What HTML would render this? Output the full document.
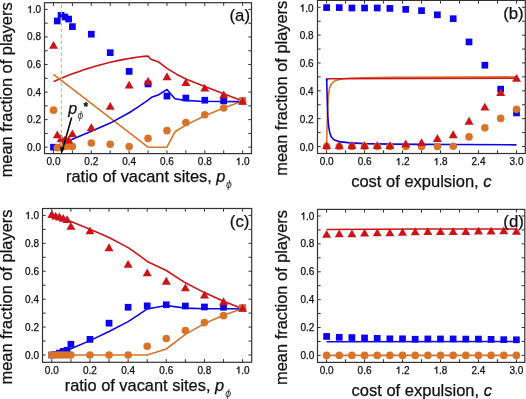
<!DOCTYPE html>
<html><head><meta charset="utf-8"><style>
html,body{margin:0;padding:0;background:#fff;}
svg{display:block;will-change:transform;}
text{font-family:"Liberation Sans",sans-serif;fill:#111;stroke:#111;stroke-width:0.25px;}
.tk{font-size:10px;}
.ax{font-size:16.4px;}
.ax2{font-size:16.5px;}
.lab{font-size:16.8px;}
.sub{font-size:10.5px;stroke:none;fill:#333;}
.it{font-style:italic;}
</style></head><body>
<svg width="526" height="399" viewBox="0 0 526 399">
<rect width="526" height="399" fill="#fff"/>
<!-- panel a -->
<line x1="53.5" y1="153.6" x2="53.5" y2="150.4" stroke="#333" stroke-width="1"/>
<line x1="53.5" y1="2.7" x2="53.5" y2="5.9" stroke="#333" stroke-width="1"/>
<line x1="72.41" y1="153.6" x2="72.41" y2="150.4" stroke="#333" stroke-width="1"/>
<line x1="72.41" y1="2.7" x2="72.41" y2="5.9" stroke="#333" stroke-width="1"/>
<line x1="91.32" y1="153.6" x2="91.32" y2="150.4" stroke="#333" stroke-width="1"/>
<line x1="91.32" y1="2.7" x2="91.32" y2="5.9" stroke="#333" stroke-width="1"/>
<line x1="110.23" y1="153.6" x2="110.23" y2="150.4" stroke="#333" stroke-width="1"/>
<line x1="110.23" y1="2.7" x2="110.23" y2="5.9" stroke="#333" stroke-width="1"/>
<line x1="129.14" y1="153.6" x2="129.14" y2="150.4" stroke="#333" stroke-width="1"/>
<line x1="129.14" y1="2.7" x2="129.14" y2="5.9" stroke="#333" stroke-width="1"/>
<line x1="148.05" y1="153.6" x2="148.05" y2="150.4" stroke="#333" stroke-width="1"/>
<line x1="148.05" y1="2.7" x2="148.05" y2="5.9" stroke="#333" stroke-width="1"/>
<line x1="166.96" y1="153.6" x2="166.96" y2="150.4" stroke="#333" stroke-width="1"/>
<line x1="166.96" y1="2.7" x2="166.96" y2="5.9" stroke="#333" stroke-width="1"/>
<line x1="185.87" y1="153.6" x2="185.87" y2="150.4" stroke="#333" stroke-width="1"/>
<line x1="185.87" y1="2.7" x2="185.87" y2="5.9" stroke="#333" stroke-width="1"/>
<line x1="204.78" y1="153.6" x2="204.78" y2="150.4" stroke="#333" stroke-width="1"/>
<line x1="204.78" y1="2.7" x2="204.78" y2="5.9" stroke="#333" stroke-width="1"/>
<line x1="223.69" y1="153.6" x2="223.69" y2="150.4" stroke="#333" stroke-width="1"/>
<line x1="223.69" y1="2.7" x2="223.69" y2="5.9" stroke="#333" stroke-width="1"/>
<line x1="242.6" y1="153.6" x2="242.6" y2="150.4" stroke="#333" stroke-width="1"/>
<line x1="242.6" y1="2.7" x2="242.6" y2="5.9" stroke="#333" stroke-width="1"/>
<line x1="44.5" y1="147.2" x2="47.7" y2="147.2" stroke="#333" stroke-width="1"/>
<line x1="251.5" y1="147.2" x2="248.3" y2="147.2" stroke="#333" stroke-width="1"/>
<line x1="44.5" y1="133.42" x2="47.7" y2="133.42" stroke="#333" stroke-width="1"/>
<line x1="251.5" y1="133.42" x2="248.3" y2="133.42" stroke="#333" stroke-width="1"/>
<line x1="44.5" y1="119.64" x2="47.7" y2="119.64" stroke="#333" stroke-width="1"/>
<line x1="251.5" y1="119.64" x2="248.3" y2="119.64" stroke="#333" stroke-width="1"/>
<line x1="44.5" y1="105.86" x2="47.7" y2="105.86" stroke="#333" stroke-width="1"/>
<line x1="251.5" y1="105.86" x2="248.3" y2="105.86" stroke="#333" stroke-width="1"/>
<line x1="44.5" y1="92.08" x2="47.7" y2="92.08" stroke="#333" stroke-width="1"/>
<line x1="251.5" y1="92.08" x2="248.3" y2="92.08" stroke="#333" stroke-width="1"/>
<line x1="44.5" y1="78.3" x2="47.7" y2="78.3" stroke="#333" stroke-width="1"/>
<line x1="251.5" y1="78.3" x2="248.3" y2="78.3" stroke="#333" stroke-width="1"/>
<line x1="44.5" y1="64.52" x2="47.7" y2="64.52" stroke="#333" stroke-width="1"/>
<line x1="251.5" y1="64.52" x2="248.3" y2="64.52" stroke="#333" stroke-width="1"/>
<line x1="44.5" y1="50.74" x2="47.7" y2="50.74" stroke="#333" stroke-width="1"/>
<line x1="251.5" y1="50.74" x2="248.3" y2="50.74" stroke="#333" stroke-width="1"/>
<line x1="44.5" y1="36.96" x2="47.7" y2="36.96" stroke="#333" stroke-width="1"/>
<line x1="251.5" y1="36.96" x2="248.3" y2="36.96" stroke="#333" stroke-width="1"/>
<line x1="44.5" y1="23.18" x2="47.7" y2="23.18" stroke="#333" stroke-width="1"/>
<line x1="251.5" y1="23.18" x2="248.3" y2="23.18" stroke="#333" stroke-width="1"/>
<line x1="44.5" y1="9.4" x2="47.7" y2="9.4" stroke="#333" stroke-width="1"/>
<line x1="251.5" y1="9.4" x2="248.3" y2="9.4" stroke="#333" stroke-width="1"/>
<rect id="a_frame" x="44.5" y="2.7" width="207" height="150.9" fill="none" stroke="#333" stroke-width="1.2"/>
<g id="a_x0">
<text x="46.55" y="164.8" class="tk">0.0</text>
</g>
<g id="a_x1">
<text x="84.37" y="164.8" class="tk">0.2</text>
</g>
<g id="a_x2">
<text x="122.19" y="164.8" class="tk">0.4</text>
</g>
<g id="a_x3">
<text x="160.01" y="164.8" class="tk">0.6</text>
</g>
<g id="a_x4">
<text x="197.83" y="164.8" class="tk">0.8</text>
</g>
<g id="a_x5">
<path d="M0.3726,0H0.2747V-0.56C0.23,-0.51 0.16,-0.475 0.109,-0.454V-0.539C0.19,-0.575 0.27,-0.64 0.31,-0.716H0.3726Z" transform="translate(235.65,164.8) scale(10.0)" fill="#111" stroke="#111" stroke-width="0.025"/>
<text x="241.21" y="164.8" class="tk">.0</text>
</g>
<g id="a_y0">
<text x="27.1" y="150.7" class="tk">0.0</text>
</g>
<g id="a_y1">
<text x="27.1" y="123.14" class="tk">0.2</text>
</g>
<g id="a_y2">
<text x="27.1" y="95.58" class="tk">0.4</text>
</g>
<g id="a_y3">
<text x="27.1" y="68.02" class="tk">0.6</text>
</g>
<g id="a_y4">
<text x="27.1" y="40.46" class="tk">0.8</text>
</g>
<g id="a_y5">
<path d="M0.3726,0H0.2747V-0.56C0.23,-0.51 0.16,-0.475 0.109,-0.454V-0.539C0.19,-0.575 0.27,-0.64 0.31,-0.716H0.3726Z" transform="translate(27.1,12.9) scale(10.0)" fill="#111" stroke="#111" stroke-width="0.025"/>
<text x="32.66" y="12.9" class="tk">.0</text>
</g>
<polyline points="53.5,81.61 57.28,79.95 61.06,78.35 64.85,76.81 68.63,75.31 72.41,73.87 76.19,72.48 79.97,71.14 83.76,69.85 87.54,68.62 91.32,67.44 95.1,66.31 98.88,65.23 102.67,64.2 106.45,63.23 110.23,62.31 114.01,61.44 117.79,60.63 121.58,59.86 125.36,59.15 129.14,58.49 132.92,57.88 136.7,57.33 140.49,56.83 144.27,56.37 148.05,55.98 150.89,59.28 158.45,61.9 166.96,68.38 176.42,74.17 185.87,78.99 204.78,86.57 223.69,93.73 242.6,100.9" fill="none" stroke="#cc1418" stroke-width="1.6" stroke-linejoin="round"/>
<polyline points="53.5,74.44 148.05,147.2 166.96,147.2 174.9,131.77 185.87,125.15 204.78,115.78 223.69,108.06 242.6,100.9" fill="none" stroke="#d8742a" stroke-width="1.6" stroke-linejoin="round"/>
<polyline points="53.5,147.2 72.41,139.21 91.32,131.35 110.23,123.08 129.14,112.75 138.59,106.55 148.05,100.07 152.21,96.9 158.83,94.7 166.96,89.46 174.9,98.83 185.11,100.35 200.05,101.31 242.6,101.59" fill="none" stroke="#0c00ee" stroke-width="1.6" stroke-linejoin="round"/>
<rect x="50.15" y="143.85" width="6.7" height="6.7" fill="#0c00ee"/>
<rect x="53.93" y="17.63" width="6.7" height="6.7" fill="#0c00ee"/>
<rect x="57.71" y="11.98" width="6.7" height="6.7" fill="#0c00ee"/>
<rect x="61.5" y="13.63" width="6.7" height="6.7" fill="#0c00ee"/>
<rect x="65.28" y="15.7" width="6.7" height="6.7" fill="#0c00ee"/>
<rect x="69.06" y="23.27" width="6.7" height="6.7" fill="#0c00ee"/>
<rect x="87.97" y="30.85" width="6.7" height="6.7" fill="#0c00ee"/>
<rect x="106.88" y="49.32" width="6.7" height="6.7" fill="#0c00ee"/>
<rect x="125.79" y="68.06" width="6.7" height="6.7" fill="#0c00ee"/>
<rect x="144.7" y="80.6" width="6.7" height="6.7" fill="#0c00ee"/>
<rect x="163.61" y="92.73" width="6.7" height="6.7" fill="#0c00ee"/>
<rect x="182.52" y="94.66" width="6.7" height="6.7" fill="#0c00ee"/>
<rect x="201.43" y="96.86" width="6.7" height="6.7" fill="#0c00ee"/>
<rect x="220.34" y="97.55" width="6.7" height="6.7" fill="#0c00ee"/>
<rect x="239.25" y="97.55" width="6.7" height="6.7" fill="#0c00ee"/>
<circle cx="53.5" cy="110.13" r="3.8" fill="#d8742a"/>
<circle cx="57.28" cy="147.75" r="3.8" fill="#d8742a"/>
<circle cx="61.06" cy="147.2" r="3.8" fill="#d8742a"/>
<circle cx="64.85" cy="146.37" r="3.8" fill="#d8742a"/>
<circle cx="68.63" cy="145.96" r="3.8" fill="#d8742a"/>
<circle cx="72.41" cy="146.51" r="3.8" fill="#d8742a"/>
<circle cx="91.32" cy="142.93" r="3.8" fill="#d8742a"/>
<circle cx="110.23" cy="144.31" r="3.8" fill="#d8742a"/>
<circle cx="129.14" cy="146.51" r="3.8" fill="#d8742a"/>
<circle cx="148.05" cy="138.38" r="3.8" fill="#d8742a"/>
<circle cx="166.96" cy="130.66" r="3.8" fill="#d8742a"/>
<circle cx="185.87" cy="122.53" r="3.8" fill="#d8742a"/>
<circle cx="204.78" cy="114.82" r="3.8" fill="#d8742a"/>
<circle cx="223.69" cy="107.93" r="3.8" fill="#d8742a"/>
<circle cx="242.6" cy="100.9" r="3.8" fill="#d8742a"/>
<path d="M53.5,40.91L58,48.71L49,48.71Z" fill="#cc1418"/>
<path d="M57.28,130.48L61.78,138.28L52.78,138.28Z" fill="#cc1418"/>
<path d="M61.06,134.34L65.56,142.14L56.56,142.14Z" fill="#cc1418"/>
<path d="M64.85,135.72L69.35,143.52L60.35,143.52Z" fill="#cc1418"/>
<path d="M68.63,135.72L73.13,143.52L64.13,143.52Z" fill="#cc1418"/>
<path d="M72.41,129.52L76.91,137.32L67.91,137.32Z" fill="#cc1418"/>
<path d="M91.32,123.18L95.82,130.98L86.82,130.98Z" fill="#cc1418"/>
<path d="M110.23,101.96L114.73,109.76L105.73,109.76Z" fill="#cc1418"/>
<path d="M129.14,80.74L133.64,88.54L124.64,88.54Z" fill="#cc1418"/>
<path d="M148.05,76.88L152.55,84.68L143.55,84.68Z" fill="#cc1418"/>
<path d="M166.96,72.33L171.46,80.13L162.46,80.13Z" fill="#cc1418"/>
<path d="M185.87,78.26L190.37,86.06L181.37,86.06Z" fill="#cc1418"/>
<path d="M204.78,83.77L209.28,91.57L200.28,91.57Z" fill="#cc1418"/>
<path d="M223.69,90.52L228.19,98.32L219.19,98.32Z" fill="#cc1418"/>
<path d="M242.6,97L247.1,104.8L238.1,104.8Z" fill="#cc1418"/>
<line x1="61.4" y1="5" x2="61.4" y2="153" stroke="#88e44c" stroke-width="1.25" stroke-dasharray="3.2 2.75"/>
<line x1="71.6" y1="117.5" x2="62.6" y2="149.5" stroke="#000" stroke-width="1.5"/>
<path d="M61.2,154.6 L60.1,146.8 L64.4,148 Z" fill="#000"/>
<text id="ann_p" x="68.2" y="114" class="it" style="font-size:16px">p</text>
<text id="ann_phi" x="77.4" y="118.8" class="it" style="font-size:10.5px;fill:#444;stroke:none">&#981;</text>
<text id="ann_star" x="83.6" y="111" style="font-size:12px;font-weight:bold">*</text>
<text id="a_lab" x="229.5" y="21" class="lab">(a)</text>
<!-- panel b -->
<line x1="326.6" y1="153.5" x2="326.6" y2="150.3" stroke="#333" stroke-width="1"/>
<line x1="326.6" y1="0.4" x2="326.6" y2="3.6" stroke="#333" stroke-width="1"/>
<line x1="345.59" y1="153.5" x2="345.59" y2="150.3" stroke="#333" stroke-width="1"/>
<line x1="345.59" y1="0.4" x2="345.59" y2="3.6" stroke="#333" stroke-width="1"/>
<line x1="364.58" y1="153.5" x2="364.58" y2="150.3" stroke="#333" stroke-width="1"/>
<line x1="364.58" y1="0.4" x2="364.58" y2="3.6" stroke="#333" stroke-width="1"/>
<line x1="383.57" y1="153.5" x2="383.57" y2="150.3" stroke="#333" stroke-width="1"/>
<line x1="383.57" y1="0.4" x2="383.57" y2="3.6" stroke="#333" stroke-width="1"/>
<line x1="402.56" y1="153.5" x2="402.56" y2="150.3" stroke="#333" stroke-width="1"/>
<line x1="402.56" y1="0.4" x2="402.56" y2="3.6" stroke="#333" stroke-width="1"/>
<line x1="421.55" y1="153.5" x2="421.55" y2="150.3" stroke="#333" stroke-width="1"/>
<line x1="421.55" y1="0.4" x2="421.55" y2="3.6" stroke="#333" stroke-width="1"/>
<line x1="440.54" y1="153.5" x2="440.54" y2="150.3" stroke="#333" stroke-width="1"/>
<line x1="440.54" y1="0.4" x2="440.54" y2="3.6" stroke="#333" stroke-width="1"/>
<line x1="459.53" y1="153.5" x2="459.53" y2="150.3" stroke="#333" stroke-width="1"/>
<line x1="459.53" y1="0.4" x2="459.53" y2="3.6" stroke="#333" stroke-width="1"/>
<line x1="478.52" y1="153.5" x2="478.52" y2="150.3" stroke="#333" stroke-width="1"/>
<line x1="478.52" y1="0.4" x2="478.52" y2="3.6" stroke="#333" stroke-width="1"/>
<line x1="497.51" y1="153.5" x2="497.51" y2="150.3" stroke="#333" stroke-width="1"/>
<line x1="497.51" y1="0.4" x2="497.51" y2="3.6" stroke="#333" stroke-width="1"/>
<line x1="516.5" y1="153.5" x2="516.5" y2="150.3" stroke="#333" stroke-width="1"/>
<line x1="516.5" y1="0.4" x2="516.5" y2="3.6" stroke="#333" stroke-width="1"/>
<line x1="317.5" y1="146.5" x2="320.7" y2="146.5" stroke="#333" stroke-width="1"/>
<line x1="525.3" y1="146.5" x2="522.1" y2="146.5" stroke="#333" stroke-width="1"/>
<line x1="317.5" y1="132.58" x2="320.7" y2="132.58" stroke="#333" stroke-width="1"/>
<line x1="525.3" y1="132.58" x2="522.1" y2="132.58" stroke="#333" stroke-width="1"/>
<line x1="317.5" y1="118.66" x2="320.7" y2="118.66" stroke="#333" stroke-width="1"/>
<line x1="525.3" y1="118.66" x2="522.1" y2="118.66" stroke="#333" stroke-width="1"/>
<line x1="317.5" y1="104.74" x2="320.7" y2="104.74" stroke="#333" stroke-width="1"/>
<line x1="525.3" y1="104.74" x2="522.1" y2="104.74" stroke="#333" stroke-width="1"/>
<line x1="317.5" y1="90.82" x2="320.7" y2="90.82" stroke="#333" stroke-width="1"/>
<line x1="525.3" y1="90.82" x2="522.1" y2="90.82" stroke="#333" stroke-width="1"/>
<line x1="317.5" y1="76.9" x2="320.7" y2="76.9" stroke="#333" stroke-width="1"/>
<line x1="525.3" y1="76.9" x2="522.1" y2="76.9" stroke="#333" stroke-width="1"/>
<line x1="317.5" y1="62.98" x2="320.7" y2="62.98" stroke="#333" stroke-width="1"/>
<line x1="525.3" y1="62.98" x2="522.1" y2="62.98" stroke="#333" stroke-width="1"/>
<line x1="317.5" y1="49.06" x2="320.7" y2="49.06" stroke="#333" stroke-width="1"/>
<line x1="525.3" y1="49.06" x2="522.1" y2="49.06" stroke="#333" stroke-width="1"/>
<line x1="317.5" y1="35.14" x2="320.7" y2="35.14" stroke="#333" stroke-width="1"/>
<line x1="525.3" y1="35.14" x2="522.1" y2="35.14" stroke="#333" stroke-width="1"/>
<line x1="317.5" y1="21.22" x2="320.7" y2="21.22" stroke="#333" stroke-width="1"/>
<line x1="525.3" y1="21.22" x2="522.1" y2="21.22" stroke="#333" stroke-width="1"/>
<line x1="317.5" y1="7.3" x2="320.7" y2="7.3" stroke="#333" stroke-width="1"/>
<line x1="525.3" y1="7.3" x2="522.1" y2="7.3" stroke="#333" stroke-width="1"/>
<rect id="b_frame" x="317.5" y="0.4" width="207.8" height="153.1" fill="none" stroke="#333" stroke-width="1.2"/>
<g id="b_x0">
<text x="319.65" y="165.1" class="tk">0.0</text>
</g>
<g id="b_x1">
<text x="357.63" y="165.1" class="tk">0.6</text>
</g>
<g id="b_x2">
<path d="M0.3726,0H0.2747V-0.56C0.23,-0.51 0.16,-0.475 0.109,-0.454V-0.539C0.19,-0.575 0.27,-0.64 0.31,-0.716H0.3726Z" transform="translate(395.61,165.1) scale(10.0)" fill="#111" stroke="#111" stroke-width="0.025"/>
<text x="401.17" y="165.1" class="tk">.2</text>
</g>
<g id="b_x3">
<path d="M0.3726,0H0.2747V-0.56C0.23,-0.51 0.16,-0.475 0.109,-0.454V-0.539C0.19,-0.575 0.27,-0.64 0.31,-0.716H0.3726Z" transform="translate(433.59,165.1) scale(10.0)" fill="#111" stroke="#111" stroke-width="0.025"/>
<text x="439.15" y="165.1" class="tk">.8</text>
</g>
<g id="b_x4">
<text x="471.57" y="165.1" class="tk">2.4</text>
</g>
<g id="b_x5">
<text x="509.55" y="165.1" class="tk">3.0</text>
</g>
<g id="b_y0">
<text x="299.7" y="150.7" class="tk">0.0</text>
</g>
<g id="b_y1">
<text x="299.7" y="122.86" class="tk">0.2</text>
</g>
<g id="b_y2">
<text x="299.7" y="95.02" class="tk">0.4</text>
</g>
<g id="b_y3">
<text x="299.7" y="67.18" class="tk">0.6</text>
</g>
<g id="b_y4">
<text x="299.7" y="39.34" class="tk">0.8</text>
</g>
<g id="b_y5">
<path d="M0.3726,0H0.2747V-0.56C0.23,-0.51 0.16,-0.475 0.109,-0.454V-0.539C0.19,-0.575 0.27,-0.64 0.31,-0.716H0.3726Z" transform="translate(299.7,11.5) scale(10.0)" fill="#111" stroke="#111" stroke-width="0.025"/>
<text x="305.26" y="11.5" class="tk">.0</text>
</g>
<polyline points="326.6,146.5 326.92,132.58 327.61,110.31 328.18,99.17 329.01,90.82 329.77,87.34 330.97,84.56 332.93,82.19 335.02,80.8 340.02,79.27 348.12,78.29 364.58,77.74 389.9,77.32 516.5,76.9" fill="none" stroke="#d8742a" stroke-width="1.6" stroke-linejoin="round"/>
<polyline points="326.6,80.52 327.87,78.99 329.77,78.71 516.5,78.29" fill="none" stroke="#cc1418" stroke-width="1.6" stroke-linejoin="round"/>
<polyline points="326.6,78.29 326.92,88.04 327.42,106.13 327.87,117.27 328.63,126.32 329.77,132.86 331.03,136.48 332.93,138.84 335.02,140.24 339.26,141.63 350.02,142.88 364.58,143.58 389.9,144.13 421.55,144.41 453.2,144.55 516.5,144.83" fill="none" stroke="#0c00ee" stroke-width="1.6" stroke-linejoin="round"/>
<rect x="323.25" y="4.23" width="6.7" height="6.7" fill="#0c00ee"/>
<rect x="335.91" y="4.23" width="6.7" height="6.7" fill="#0c00ee"/>
<rect x="348.57" y="4.65" width="6.7" height="6.7" fill="#0c00ee"/>
<rect x="361.23" y="4.65" width="6.7" height="6.7" fill="#0c00ee"/>
<rect x="373.89" y="4.65" width="6.7" height="6.7" fill="#0c00ee"/>
<rect x="386.55" y="5.06" width="6.7" height="6.7" fill="#0c00ee"/>
<rect x="402.38" y="6.04" width="6.7" height="6.7" fill="#0c00ee"/>
<rect x="418.2" y="7.29" width="6.7" height="6.7" fill="#0c00ee"/>
<rect x="434.02" y="11.47" width="6.7" height="6.7" fill="#0c00ee"/>
<rect x="449.85" y="15.36" width="6.7" height="6.7" fill="#0c00ee"/>
<rect x="465.67" y="38.61" width="6.7" height="6.7" fill="#0c00ee"/>
<rect x="481.5" y="61.86" width="6.7" height="6.7" fill="#0c00ee"/>
<rect x="497.32" y="85.8" width="6.7" height="6.7" fill="#0c00ee"/>
<rect x="513.15" y="109.6" width="6.7" height="6.7" fill="#0c00ee"/>
<circle cx="326.6" cy="146.5" r="3.8" fill="#d8742a"/>
<circle cx="339.26" cy="146.5" r="3.8" fill="#d8742a"/>
<circle cx="351.92" cy="146.5" r="3.8" fill="#d8742a"/>
<circle cx="364.58" cy="146.5" r="3.8" fill="#d8742a"/>
<circle cx="377.24" cy="146.5" r="3.8" fill="#d8742a"/>
<circle cx="389.9" cy="146.5" r="3.8" fill="#d8742a"/>
<circle cx="405.73" cy="146.5" r="3.8" fill="#d8742a"/>
<circle cx="421.55" cy="146.5" r="3.8" fill="#d8742a"/>
<circle cx="437.38" cy="146.5" r="3.8" fill="#d8742a"/>
<circle cx="453.2" cy="146.22" r="3.8" fill="#d8742a"/>
<circle cx="469.02" cy="136.9" r="3.8" fill="#d8742a"/>
<circle cx="484.85" cy="127.85" r="3.8" fill="#d8742a"/>
<circle cx="500.67" cy="118.38" r="3.8" fill="#d8742a"/>
<circle cx="516.5" cy="109.33" r="3.8" fill="#d8742a"/>
<path d="M326.6,141.21L331.1,149.01L322.1,149.01Z" fill="#cc1418"/>
<path d="M339.26,141.21L343.76,149.01L334.76,149.01Z" fill="#cc1418"/>
<path d="M351.92,141.21L356.42,149.01L347.42,149.01Z" fill="#cc1418"/>
<path d="M364.58,141.21L369.08,149.01L360.08,149.01Z" fill="#cc1418"/>
<path d="M377.24,141.21L381.74,149.01L372.74,149.01Z" fill="#cc1418"/>
<path d="M389.9,141.21L394.4,149.01L385.4,149.01Z" fill="#cc1418"/>
<path d="M405.73,139.54L410.23,147.34L401.23,147.34Z" fill="#cc1418"/>
<path d="M421.55,138.28L426.05,146.08L417.05,146.08Z" fill="#cc1418"/>
<path d="M437.38,134.11L441.88,141.91L432.88,141.91Z" fill="#cc1418"/>
<path d="M453.2,130.35L457.7,138.15L448.7,138.15Z" fill="#cc1418"/>
<path d="M469.02,116.85L473.52,124.65L464.52,124.65Z" fill="#cc1418"/>
<path d="M484.85,102.65L489.35,110.45L480.35,110.45Z" fill="#cc1418"/>
<path d="M500.67,88.31L505.17,96.11L496.17,96.11Z" fill="#cc1418"/>
<path d="M516.5,73.97L521,81.77L512,81.77Z" fill="#cc1418"/>
<text id="b_lab" x="503.2" y="19" class="lab">(b)</text>
<!-- panel c -->
<line x1="51.8" y1="362.3" x2="51.8" y2="359.1" stroke="#333" stroke-width="1"/>
<line x1="51.8" y1="208.5" x2="51.8" y2="211.7" stroke="#333" stroke-width="1"/>
<line x1="70.88" y1="362.3" x2="70.88" y2="359.1" stroke="#333" stroke-width="1"/>
<line x1="70.88" y1="208.5" x2="70.88" y2="211.7" stroke="#333" stroke-width="1"/>
<line x1="89.96" y1="362.3" x2="89.96" y2="359.1" stroke="#333" stroke-width="1"/>
<line x1="89.96" y1="208.5" x2="89.96" y2="211.7" stroke="#333" stroke-width="1"/>
<line x1="109.04" y1="362.3" x2="109.04" y2="359.1" stroke="#333" stroke-width="1"/>
<line x1="109.04" y1="208.5" x2="109.04" y2="211.7" stroke="#333" stroke-width="1"/>
<line x1="128.12" y1="362.3" x2="128.12" y2="359.1" stroke="#333" stroke-width="1"/>
<line x1="128.12" y1="208.5" x2="128.12" y2="211.7" stroke="#333" stroke-width="1"/>
<line x1="147.2" y1="362.3" x2="147.2" y2="359.1" stroke="#333" stroke-width="1"/>
<line x1="147.2" y1="208.5" x2="147.2" y2="211.7" stroke="#333" stroke-width="1"/>
<line x1="166.28" y1="362.3" x2="166.28" y2="359.1" stroke="#333" stroke-width="1"/>
<line x1="166.28" y1="208.5" x2="166.28" y2="211.7" stroke="#333" stroke-width="1"/>
<line x1="185.36" y1="362.3" x2="185.36" y2="359.1" stroke="#333" stroke-width="1"/>
<line x1="185.36" y1="208.5" x2="185.36" y2="211.7" stroke="#333" stroke-width="1"/>
<line x1="204.44" y1="362.3" x2="204.44" y2="359.1" stroke="#333" stroke-width="1"/>
<line x1="204.44" y1="208.5" x2="204.44" y2="211.7" stroke="#333" stroke-width="1"/>
<line x1="223.52" y1="362.3" x2="223.52" y2="359.1" stroke="#333" stroke-width="1"/>
<line x1="223.52" y1="208.5" x2="223.52" y2="211.7" stroke="#333" stroke-width="1"/>
<line x1="242.6" y1="362.3" x2="242.6" y2="359.1" stroke="#333" stroke-width="1"/>
<line x1="242.6" y1="208.5" x2="242.6" y2="211.7" stroke="#333" stroke-width="1"/>
<line x1="42.5" y1="355" x2="45.7" y2="355" stroke="#333" stroke-width="1"/>
<line x1="251.7" y1="355" x2="248.5" y2="355" stroke="#333" stroke-width="1"/>
<line x1="42.5" y1="341.04" x2="45.7" y2="341.04" stroke="#333" stroke-width="1"/>
<line x1="251.7" y1="341.04" x2="248.5" y2="341.04" stroke="#333" stroke-width="1"/>
<line x1="42.5" y1="327.08" x2="45.7" y2="327.08" stroke="#333" stroke-width="1"/>
<line x1="251.7" y1="327.08" x2="248.5" y2="327.08" stroke="#333" stroke-width="1"/>
<line x1="42.5" y1="313.12" x2="45.7" y2="313.12" stroke="#333" stroke-width="1"/>
<line x1="251.7" y1="313.12" x2="248.5" y2="313.12" stroke="#333" stroke-width="1"/>
<line x1="42.5" y1="299.16" x2="45.7" y2="299.16" stroke="#333" stroke-width="1"/>
<line x1="251.7" y1="299.16" x2="248.5" y2="299.16" stroke="#333" stroke-width="1"/>
<line x1="42.5" y1="285.2" x2="45.7" y2="285.2" stroke="#333" stroke-width="1"/>
<line x1="251.7" y1="285.2" x2="248.5" y2="285.2" stroke="#333" stroke-width="1"/>
<line x1="42.5" y1="271.24" x2="45.7" y2="271.24" stroke="#333" stroke-width="1"/>
<line x1="251.7" y1="271.24" x2="248.5" y2="271.24" stroke="#333" stroke-width="1"/>
<line x1="42.5" y1="257.28" x2="45.7" y2="257.28" stroke="#333" stroke-width="1"/>
<line x1="251.7" y1="257.28" x2="248.5" y2="257.28" stroke="#333" stroke-width="1"/>
<line x1="42.5" y1="243.32" x2="45.7" y2="243.32" stroke="#333" stroke-width="1"/>
<line x1="251.7" y1="243.32" x2="248.5" y2="243.32" stroke="#333" stroke-width="1"/>
<line x1="42.5" y1="229.36" x2="45.7" y2="229.36" stroke="#333" stroke-width="1"/>
<line x1="251.7" y1="229.36" x2="248.5" y2="229.36" stroke="#333" stroke-width="1"/>
<line x1="42.5" y1="215.4" x2="45.7" y2="215.4" stroke="#333" stroke-width="1"/>
<line x1="251.7" y1="215.4" x2="248.5" y2="215.4" stroke="#333" stroke-width="1"/>
<rect id="c_frame" x="42.5" y="208.5" width="209.2" height="153.8" fill="none" stroke="#333" stroke-width="1.2"/>
<g id="c_x0">
<text x="44.85" y="373.6" class="tk">0.0</text>
</g>
<g id="c_x1">
<text x="83.01" y="373.6" class="tk">0.2</text>
</g>
<g id="c_x2">
<text x="121.17" y="373.6" class="tk">0.4</text>
</g>
<g id="c_x3">
<text x="159.33" y="373.6" class="tk">0.6</text>
</g>
<g id="c_x4">
<text x="197.49" y="373.6" class="tk">0.8</text>
</g>
<g id="c_x5">
<path d="M0.3726,0H0.2747V-0.56C0.23,-0.51 0.16,-0.475 0.109,-0.454V-0.539C0.19,-0.575 0.27,-0.64 0.31,-0.716H0.3726Z" transform="translate(235.65,373.6) scale(10.0)" fill="#111" stroke="#111" stroke-width="0.025"/>
<text x="241.21" y="373.6" class="tk">.0</text>
</g>
<g id="c_y0">
<text x="25.1" y="358.5" class="tk">0.0</text>
</g>
<g id="c_y1">
<text x="25.1" y="330.58" class="tk">0.2</text>
</g>
<g id="c_y2">
<text x="25.1" y="302.66" class="tk">0.4</text>
</g>
<g id="c_y3">
<text x="25.1" y="274.74" class="tk">0.6</text>
</g>
<g id="c_y4">
<text x="25.1" y="246.82" class="tk">0.8</text>
</g>
<g id="c_y5">
<path d="M0.3726,0H0.2747V-0.56C0.23,-0.51 0.16,-0.475 0.109,-0.454V-0.539C0.19,-0.575 0.27,-0.64 0.31,-0.716H0.3726Z" transform="translate(25.1,218.9) scale(10.0)" fill="#111" stroke="#111" stroke-width="0.025"/>
<text x="30.66" y="218.9" class="tk">.0</text>
</g>
<polyline points="51.8,215.4 70.88,221.54 89.96,229.36 109.04,237.46 128.12,247.65 139.95,255.88 147.2,261.47 166.28,270.54 185.36,282.83 204.44,292.6 223.52,301.25 242.6,308.79" fill="none" stroke="#cc1418" stroke-width="1.6" stroke-linejoin="round"/>
<polyline points="51.8,355 147.2,355 166.28,349 185.36,334.34 204.44,323.59 223.52,315.21 242.6,308.51" fill="none" stroke="#d8742a" stroke-width="1.6" stroke-linejoin="round"/>
<polyline points="51.8,355 61.34,352.21 70.88,348.72 89.96,340.62 109.04,331.55 128.12,321.64 139.57,314.1 147.2,308.93 166.28,305.44 185.36,308.09 204.44,308.79 242.6,308.79" fill="none" stroke="#0c00ee" stroke-width="1.6" stroke-linejoin="round"/>
<rect x="48.45" y="351.65" width="6.7" height="6.7" fill="#0c00ee"/>
<rect x="52.27" y="351.09" width="6.7" height="6.7" fill="#0c00ee"/>
<rect x="56.08" y="349.7" width="6.7" height="6.7" fill="#0c00ee"/>
<rect x="59.9" y="348.02" width="6.7" height="6.7" fill="#0c00ee"/>
<rect x="63.71" y="346.9" width="6.7" height="6.7" fill="#0c00ee"/>
<rect x="67.53" y="340.9" width="6.7" height="6.7" fill="#0c00ee"/>
<rect x="86.61" y="336.01" width="6.7" height="6.7" fill="#0c00ee"/>
<rect x="105.69" y="319.82" width="6.7" height="6.7" fill="#0c00ee"/>
<rect x="124.77" y="303.91" width="6.7" height="6.7" fill="#0c00ee"/>
<rect x="143.85" y="302.51" width="6.7" height="6.7" fill="#0c00ee"/>
<rect x="162.93" y="301.39" width="6.7" height="6.7" fill="#0c00ee"/>
<rect x="182.01" y="302.65" width="6.7" height="6.7" fill="#0c00ee"/>
<rect x="201.09" y="303.63" width="6.7" height="6.7" fill="#0c00ee"/>
<rect x="220.17" y="303.91" width="6.7" height="6.7" fill="#0c00ee"/>
<rect x="239.25" y="304.6" width="6.7" height="6.7" fill="#0c00ee"/>
<circle cx="51.8" cy="355" r="3.8" fill="#d8742a"/>
<circle cx="55.62" cy="355" r="3.8" fill="#d8742a"/>
<circle cx="59.43" cy="355" r="3.8" fill="#d8742a"/>
<circle cx="63.25" cy="355" r="3.8" fill="#d8742a"/>
<circle cx="67.06" cy="355" r="3.8" fill="#d8742a"/>
<circle cx="70.88" cy="355" r="3.8" fill="#d8742a"/>
<circle cx="89.96" cy="355" r="3.8" fill="#d8742a"/>
<circle cx="109.04" cy="355" r="3.8" fill="#d8742a"/>
<circle cx="128.12" cy="355" r="3.8" fill="#d8742a"/>
<circle cx="147.2" cy="346.21" r="3.8" fill="#d8742a"/>
<circle cx="166.28" cy="338.53" r="3.8" fill="#d8742a"/>
<circle cx="185.36" cy="330.57" r="3.8" fill="#d8742a"/>
<circle cx="204.44" cy="322.61" r="3.8" fill="#d8742a"/>
<circle cx="223.52" cy="315.63" r="3.8" fill="#d8742a"/>
<circle cx="242.6" cy="307.95" r="3.8" fill="#d8742a"/>
<path d="M51.8,210.1L56.3,217.9L47.3,217.9Z" fill="#cc1418"/>
<path d="M55.62,211.64L60.12,219.44L51.12,219.44Z" fill="#cc1418"/>
<path d="M59.43,212.62L63.93,220.42L54.93,220.42Z" fill="#cc1418"/>
<path d="M63.25,214.01L67.75,221.81L58.75,221.81Z" fill="#cc1418"/>
<path d="M67.06,215.13L71.56,222.93L62.56,222.93Z" fill="#cc1418"/>
<path d="M70.88,221.97L75.38,229.77L66.38,229.77Z" fill="#cc1418"/>
<path d="M89.96,226.44L94.46,234.24L85.46,234.24Z" fill="#cc1418"/>
<path d="M109.04,243.33L113.54,251.13L104.54,251.13Z" fill="#cc1418"/>
<path d="M128.12,259.94L132.62,267.74L123.62,267.74Z" fill="#cc1418"/>
<path d="M147.2,268.46L151.7,276.26L142.7,276.26Z" fill="#cc1418"/>
<path d="M166.28,276.83L170.78,284.63L161.78,284.63Z" fill="#cc1418"/>
<path d="M185.36,283.53L189.86,291.33L180.86,291.33Z" fill="#cc1418"/>
<path d="M204.44,290.65L208.94,298.45L199.94,298.45Z" fill="#cc1418"/>
<path d="M223.52,297.35L228.02,305.15L219.02,305.15Z" fill="#cc1418"/>
<path d="M242.6,304.05L247.1,311.85L238.1,311.85Z" fill="#cc1418"/>
<text id="c_lab" x="229.8" y="227" class="lab">(c)</text>
<!-- panel d -->
<line x1="326.6" y1="362.4" x2="326.6" y2="359.2" stroke="#333" stroke-width="1"/>
<line x1="326.6" y1="209.4" x2="326.6" y2="212.6" stroke="#333" stroke-width="1"/>
<line x1="345.58" y1="362.4" x2="345.58" y2="359.2" stroke="#333" stroke-width="1"/>
<line x1="345.58" y1="209.4" x2="345.58" y2="212.6" stroke="#333" stroke-width="1"/>
<line x1="364.56" y1="362.4" x2="364.56" y2="359.2" stroke="#333" stroke-width="1"/>
<line x1="364.56" y1="209.4" x2="364.56" y2="212.6" stroke="#333" stroke-width="1"/>
<line x1="383.54" y1="362.4" x2="383.54" y2="359.2" stroke="#333" stroke-width="1"/>
<line x1="383.54" y1="209.4" x2="383.54" y2="212.6" stroke="#333" stroke-width="1"/>
<line x1="402.52" y1="362.4" x2="402.52" y2="359.2" stroke="#333" stroke-width="1"/>
<line x1="402.52" y1="209.4" x2="402.52" y2="212.6" stroke="#333" stroke-width="1"/>
<line x1="421.5" y1="362.4" x2="421.5" y2="359.2" stroke="#333" stroke-width="1"/>
<line x1="421.5" y1="209.4" x2="421.5" y2="212.6" stroke="#333" stroke-width="1"/>
<line x1="440.48" y1="362.4" x2="440.48" y2="359.2" stroke="#333" stroke-width="1"/>
<line x1="440.48" y1="209.4" x2="440.48" y2="212.6" stroke="#333" stroke-width="1"/>
<line x1="459.46" y1="362.4" x2="459.46" y2="359.2" stroke="#333" stroke-width="1"/>
<line x1="459.46" y1="209.4" x2="459.46" y2="212.6" stroke="#333" stroke-width="1"/>
<line x1="478.44" y1="362.4" x2="478.44" y2="359.2" stroke="#333" stroke-width="1"/>
<line x1="478.44" y1="209.4" x2="478.44" y2="212.6" stroke="#333" stroke-width="1"/>
<line x1="497.42" y1="362.4" x2="497.42" y2="359.2" stroke="#333" stroke-width="1"/>
<line x1="497.42" y1="209.4" x2="497.42" y2="212.6" stroke="#333" stroke-width="1"/>
<line x1="516.4" y1="362.4" x2="516.4" y2="359.2" stroke="#333" stroke-width="1"/>
<line x1="516.4" y1="209.4" x2="516.4" y2="212.6" stroke="#333" stroke-width="1"/>
<line x1="317.5" y1="355.4" x2="320.7" y2="355.4" stroke="#333" stroke-width="1"/>
<line x1="524.8" y1="355.4" x2="521.6" y2="355.4" stroke="#333" stroke-width="1"/>
<line x1="317.5" y1="341.46" x2="320.7" y2="341.46" stroke="#333" stroke-width="1"/>
<line x1="524.8" y1="341.46" x2="521.6" y2="341.46" stroke="#333" stroke-width="1"/>
<line x1="317.5" y1="327.52" x2="320.7" y2="327.52" stroke="#333" stroke-width="1"/>
<line x1="524.8" y1="327.52" x2="521.6" y2="327.52" stroke="#333" stroke-width="1"/>
<line x1="317.5" y1="313.58" x2="320.7" y2="313.58" stroke="#333" stroke-width="1"/>
<line x1="524.8" y1="313.58" x2="521.6" y2="313.58" stroke="#333" stroke-width="1"/>
<line x1="317.5" y1="299.64" x2="320.7" y2="299.64" stroke="#333" stroke-width="1"/>
<line x1="524.8" y1="299.64" x2="521.6" y2="299.64" stroke="#333" stroke-width="1"/>
<line x1="317.5" y1="285.7" x2="320.7" y2="285.7" stroke="#333" stroke-width="1"/>
<line x1="524.8" y1="285.7" x2="521.6" y2="285.7" stroke="#333" stroke-width="1"/>
<line x1="317.5" y1="271.76" x2="320.7" y2="271.76" stroke="#333" stroke-width="1"/>
<line x1="524.8" y1="271.76" x2="521.6" y2="271.76" stroke="#333" stroke-width="1"/>
<line x1="317.5" y1="257.82" x2="320.7" y2="257.82" stroke="#333" stroke-width="1"/>
<line x1="524.8" y1="257.82" x2="521.6" y2="257.82" stroke="#333" stroke-width="1"/>
<line x1="317.5" y1="243.88" x2="320.7" y2="243.88" stroke="#333" stroke-width="1"/>
<line x1="524.8" y1="243.88" x2="521.6" y2="243.88" stroke="#333" stroke-width="1"/>
<line x1="317.5" y1="229.94" x2="320.7" y2="229.94" stroke="#333" stroke-width="1"/>
<line x1="524.8" y1="229.94" x2="521.6" y2="229.94" stroke="#333" stroke-width="1"/>
<line x1="317.5" y1="216" x2="320.7" y2="216" stroke="#333" stroke-width="1"/>
<line x1="524.8" y1="216" x2="521.6" y2="216" stroke="#333" stroke-width="1"/>
<rect id="d_frame" x="317.5" y="209.4" width="207.3" height="153" fill="none" stroke="#333" stroke-width="1.2"/>
<g id="d_x0">
<text x="319.65" y="373.6" class="tk">0.0</text>
</g>
<g id="d_x1">
<text x="357.61" y="373.6" class="tk">0.6</text>
</g>
<g id="d_x2">
<path d="M0.3726,0H0.2747V-0.56C0.23,-0.51 0.16,-0.475 0.109,-0.454V-0.539C0.19,-0.575 0.27,-0.64 0.31,-0.716H0.3726Z" transform="translate(395.57,373.6) scale(10.0)" fill="#111" stroke="#111" stroke-width="0.025"/>
<text x="401.13" y="373.6" class="tk">.2</text>
</g>
<g id="d_x3">
<path d="M0.3726,0H0.2747V-0.56C0.23,-0.51 0.16,-0.475 0.109,-0.454V-0.539C0.19,-0.575 0.27,-0.64 0.31,-0.716H0.3726Z" transform="translate(433.53,373.6) scale(10.0)" fill="#111" stroke="#111" stroke-width="0.025"/>
<text x="439.09" y="373.6" class="tk">.8</text>
</g>
<g id="d_x4">
<text x="471.49" y="373.6" class="tk">2.4</text>
</g>
<g id="d_x5">
<text x="509.45" y="373.6" class="tk">3.0</text>
</g>
<g id="d_y0">
<text x="300.5" y="358.9" class="tk">0.0</text>
</g>
<g id="d_y1">
<text x="300.5" y="331.02" class="tk">0.2</text>
</g>
<g id="d_y2">
<text x="300.5" y="303.14" class="tk">0.4</text>
</g>
<g id="d_y3">
<text x="300.5" y="275.26" class="tk">0.6</text>
</g>
<g id="d_y4">
<text x="300.5" y="247.38" class="tk">0.8</text>
</g>
<g id="d_y5">
<path d="M0.3726,0H0.2747V-0.56C0.23,-0.51 0.16,-0.475 0.109,-0.454V-0.539C0.19,-0.575 0.27,-0.64 0.31,-0.716H0.3726Z" transform="translate(300.5,219.5) scale(10.0)" fill="#111" stroke="#111" stroke-width="0.025"/>
<text x="306.06" y="219.5" class="tk">.0</text>
</g>
<polyline points="326.6,229.52 421.5,228.96 516.4,228.96" fill="none" stroke="#cc1418" stroke-width="1.6" stroke-linejoin="round"/>
<polyline points="326.6,355.4 516.4,355.4" fill="none" stroke="#d8742a" stroke-width="1.6" stroke-linejoin="round"/>
<polyline points="326.6,341.74 516.4,341.46" fill="none" stroke="#0c00ee" stroke-width="1.6" stroke-linejoin="round"/>
<rect x="323.25" y="333.09" width="6.7" height="6.7" fill="#0c00ee"/>
<rect x="335.9" y="333.93" width="6.7" height="6.7" fill="#0c00ee"/>
<rect x="348.56" y="334.21" width="6.7" height="6.7" fill="#0c00ee"/>
<rect x="361.21" y="334.62" width="6.7" height="6.7" fill="#0c00ee"/>
<rect x="373.86" y="335.04" width="6.7" height="6.7" fill="#0c00ee"/>
<rect x="386.52" y="335.46" width="6.7" height="6.7" fill="#0c00ee"/>
<rect x="399.17" y="335.46" width="6.7" height="6.7" fill="#0c00ee"/>
<rect x="411.82" y="335.88" width="6.7" height="6.7" fill="#0c00ee"/>
<rect x="424.48" y="335.6" width="6.7" height="6.7" fill="#0c00ee"/>
<rect x="437.13" y="335.6" width="6.7" height="6.7" fill="#0c00ee"/>
<rect x="449.78" y="335.6" width="6.7" height="6.7" fill="#0c00ee"/>
<rect x="462.44" y="335.74" width="6.7" height="6.7" fill="#0c00ee"/>
<rect x="475.09" y="335.74" width="6.7" height="6.7" fill="#0c00ee"/>
<rect x="487.74" y="336.02" width="6.7" height="6.7" fill="#0c00ee"/>
<rect x="500.4" y="336.3" width="6.7" height="6.7" fill="#0c00ee"/>
<rect x="513.05" y="336.44" width="6.7" height="6.7" fill="#0c00ee"/>
<circle cx="326.6" cy="355.4" r="3.8" fill="#d8742a"/>
<circle cx="339.25" cy="355.4" r="3.8" fill="#d8742a"/>
<circle cx="351.91" cy="355.4" r="3.8" fill="#d8742a"/>
<circle cx="364.56" cy="355.4" r="3.8" fill="#d8742a"/>
<circle cx="377.21" cy="355.4" r="3.8" fill="#d8742a"/>
<circle cx="389.87" cy="355.4" r="3.8" fill="#d8742a"/>
<circle cx="402.52" cy="355.4" r="3.8" fill="#d8742a"/>
<circle cx="415.17" cy="355.4" r="3.8" fill="#d8742a"/>
<circle cx="427.83" cy="355.4" r="3.8" fill="#d8742a"/>
<circle cx="440.48" cy="355.4" r="3.8" fill="#d8742a"/>
<circle cx="453.13" cy="355.4" r="3.8" fill="#d8742a"/>
<circle cx="465.79" cy="355.4" r="3.8" fill="#d8742a"/>
<circle cx="478.44" cy="355.4" r="3.8" fill="#d8742a"/>
<circle cx="491.09" cy="355.4" r="3.8" fill="#d8742a"/>
<circle cx="503.75" cy="355.4" r="3.8" fill="#d8742a"/>
<circle cx="516.4" cy="355.4" r="3.8" fill="#d8742a"/>
<path d="M326.6,229.94L331.1,237.74L322.1,237.74Z" fill="#cc1418"/>
<path d="M339.25,229.53L343.75,237.33L334.75,237.33Z" fill="#cc1418"/>
<path d="M351.91,229.39L356.41,237.19L347.41,237.19Z" fill="#cc1418"/>
<path d="M364.56,228.69L369.06,236.49L360.06,236.49Z" fill="#cc1418"/>
<path d="M377.21,228.41L381.71,236.21L372.71,236.21Z" fill="#cc1418"/>
<path d="M389.87,228.41L394.37,236.21L385.37,236.21Z" fill="#cc1418"/>
<path d="M402.52,227.99L407.02,235.79L398.02,235.79Z" fill="#cc1418"/>
<path d="M415.17,227.57L419.67,235.37L410.67,235.37Z" fill="#cc1418"/>
<path d="M427.83,227.16L432.33,234.96L423.33,234.96Z" fill="#cc1418"/>
<path d="M440.48,227.16L444.98,234.96L435.98,234.96Z" fill="#cc1418"/>
<path d="M453.13,227.16L457.63,234.96L448.63,234.96Z" fill="#cc1418"/>
<path d="M465.79,227.16L470.29,234.96L461.29,234.96Z" fill="#cc1418"/>
<path d="M478.44,226.74L482.94,234.54L473.94,234.54Z" fill="#cc1418"/>
<path d="M491.09,226.74L495.59,234.54L486.59,234.54Z" fill="#cc1418"/>
<path d="M503.75,226.46L508.25,234.26L499.25,234.26Z" fill="#cc1418"/>
<path d="M516.4,226.88L520.9,234.68L511.9,234.68Z" fill="#cc1418"/>
<text id="d_lab" x="503.3" y="227" class="lab">(d)</text>
<text id="a_yt" class="ax" transform="translate(12.4,177.3) rotate(-90)">mean fraction of players</text>
<text id="b_yt" class="ax" transform="translate(286.7,175.7) rotate(-90)">mean fraction of players</text>
<text id="c_yt" class="ax" transform="translate(12.4,384.5) rotate(-90)">mean fraction of players</text>
<text id="d_yt" class="ax" transform="translate(286.7,384.9) rotate(-90)">mean fraction of players</text>
<g id="a_xt"><text class="ax" x="66" y="181.7">ratio of vacant sites, <tspan class="it">p</tspan></text><text x="226" y="188.3" class="it sub">&#981;</text></g>
<g id="c_xt"><text class="ax" x="64.7" y="390.7">ratio of vacant sites, <tspan class="it">p</tspan></text><text x="225.3" y="397.3" class="it sub">&#981;</text></g>
<text id="b_xt" class="ax2" x="351.2" y="186.6">cost of expulsion, <tspan class="it">c</tspan></text>
<text id="d_xt" class="ax2" x="351.6" y="395.8">cost of expulsion, <tspan class="it">c</tspan></text>
</svg>
</body></html>
